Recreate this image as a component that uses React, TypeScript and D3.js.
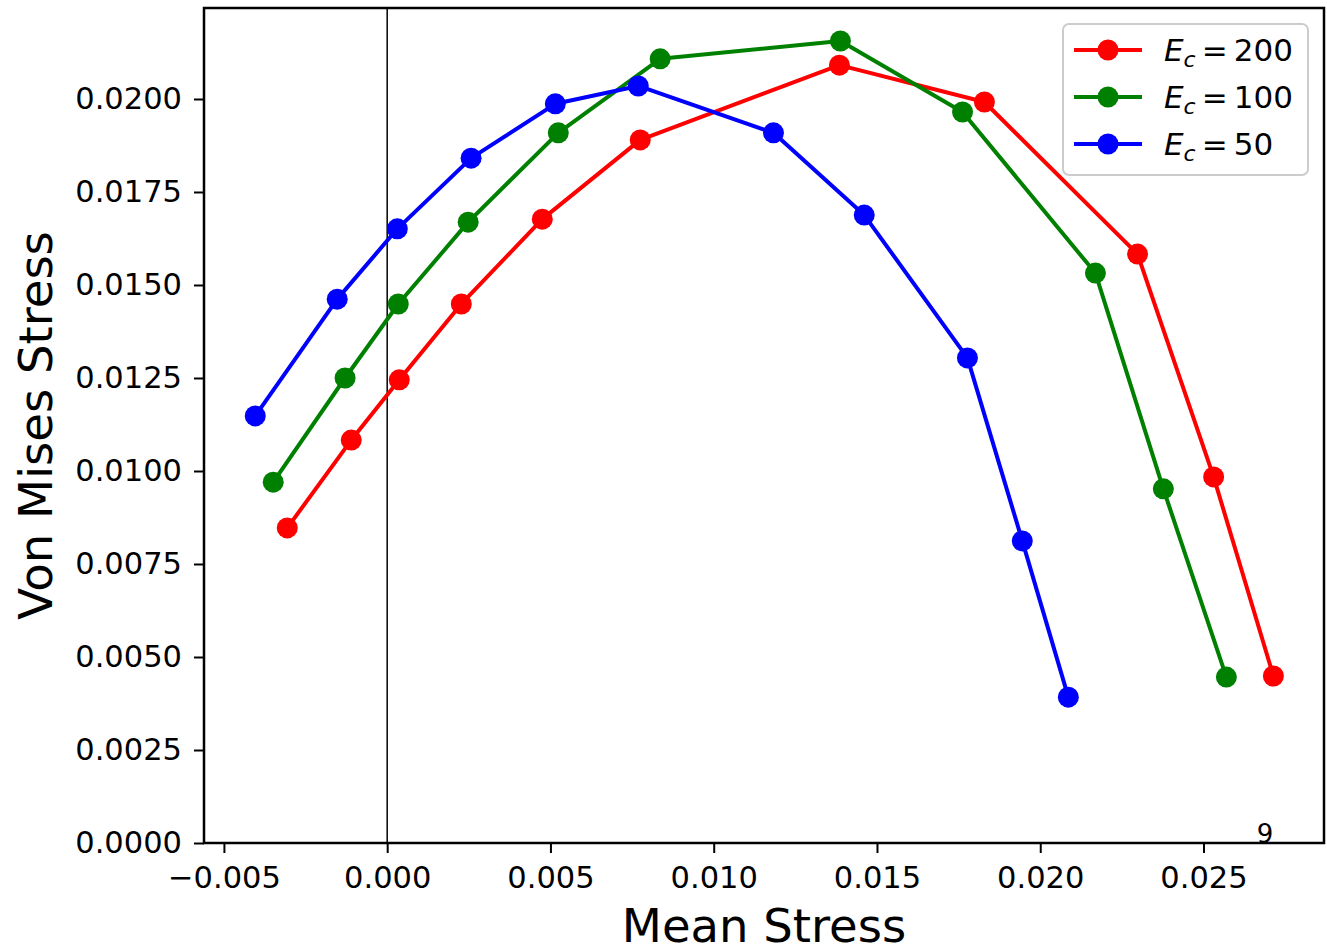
import React, { useEffect, useRef } from 'react';
import * as d3 from 'd3';

// series values (mean stress, von Mises stress)
const ec200X = [-0.00306, -0.0011, 0.00037, 0.00227, 0.00475, 0.00775, 0.01385, 0.01829, 0.02298, 0.02531, 0.02714];
const ec200Y = [0.00847, 0.01083, 0.01245, 0.01449, 0.01677, 0.0189, 0.02091, 0.01992, 0.01583, 0.00984, 0.00449];
const ec100X = [-0.00349, -0.00129, 0.00034, 0.00248, 0.00524, 0.00836, 0.01388, 0.01762, 0.02169, 0.02377, 0.0257];
const ec100Y = [0.0097, 0.0125, 0.01449, 0.01669, 0.01909, 0.02108, 0.02156, 0.01965, 0.01532, 0.00952, 0.00446];
const ec50X = [-0.00404, -0.00153, 0.00031, 0.00257, 0.00515, 0.00769, 0.01183, 0.01461, 0.01777, 0.01945, 0.02086];
const ec50Y = [0.01148, 0.01462, 0.01651, 0.01841, 0.01987, 0.02035, 0.01909, 0.01688, 0.01304, 0.00812, 0.00392];

const seriesNames = ['200', '100', '50'];
const seriesColors = ['#ff0000', '#008000', '#0000ff'];
const xTicks = [-0.005, 0, 0.005, 0.01, 0.015, 0.02, 0.025];
const yTicks = [0, 0.0025, 0.005, 0.0075, 0.01, 0.0125, 0.015, 0.0175, 0.02];

const W = 1327, H = 948;
const FONT = 'DejaVu Sans, sans-serif';

export default function App() {
  const ref = useRef<SVGSVGElement>(null);

  useEffect(() => {
    const svg = d3.select(ref.current);
    svg.selectAll('*').remove();

    const left = 204, right = 1324, top = 8, bottom = 843;
    const x = d3.scaleLinear().domain([-0.00561, 0.02869]).range([left, right]);
    const y = d3.scaleLinear().domain([0, 0.022446]).range([bottom, top]);

    const data = [
      d3.zip(ec200X, ec200Y),
      d3.zip(ec100X, ec100Y),
      d3.zip(ec50X, ec50Y),
    ];

    svg.append('rect').attr('width', W).attr('height', H).attr('fill', '#fff');

    // vertical line at x = 0
    svg.append('line')
      .attr('x1', x(0)).attr('x2', x(0))
      .attr('y1', top).attr('y2', bottom)
      .attr('stroke', '#000').attr('stroke-width', 1.5);

    const line = d3.line<number[]>().x(d => x(d[0])).y(d => y(d[1]));

    data.forEach((pts, i) => {
      svg.append('path')
        .attr('d', line(pts as number[][]))
        .attr('fill', 'none')
        .attr('stroke', seriesColors[i])
        .attr('stroke-width', 4)
        .attr('stroke-linejoin', 'round');
      svg.append('g').selectAll('circle')
        .data(pts)
        .enter()
        .append('circle')
        .attr('cx', d => x(d[0]))
        .attr('cy', d => y(d[1]))
        .attr('r', 10.5)
        .attr('fill', seriesColors[i]);
    });

    // axes
    const xAxis = svg.append('g')
      .attr('transform', `translate(0,${bottom})`)
      .call(d3.axisBottom(x).tickValues(xTicks).tickSize(10).tickPadding(13)
        .tickFormat(d => d3.format('.3f')(d as number).replace('-', '\u2212')));
    const yAxis = svg.append('g')
      .attr('transform', `translate(${left},0)`)
      .call(d3.axisLeft(y).tickValues(yTicks).tickSize(10).tickPadding(12)
        .tickFormat(d => d3.format('.4f')(d as number)));

    [xAxis, yAxis].forEach(a => {
      a.select('.domain').remove();
      a.selectAll('line').attr('stroke', '#000').attr('stroke-width', 2);
      a.selectAll('text').attr('font-family', FONT).attr('font-size', 30.5).attr('fill', '#000');
    });

    // spines
    svg.append('rect')
      .attr('x', left).attr('y', top)
      .attr('width', right - left).attr('height', bottom - top)
      .attr('fill', 'none').attr('stroke', '#000').attr('stroke-width', 2.5);

    // stray annotation
    svg.append('text')
      .attr('x', 1265).attr('y', 843)
      .attr('text-anchor', 'middle')
      .attr('font-family', FONT).attr('font-size', 26)
      .text('9');

    // axis labels
    svg.append('text')
      .attr('x', (left + right) / 2).attr('y', 942)
      .attr('text-anchor', 'middle')
      .attr('font-family', FONT).attr('font-size', 46.5)
      .text('Mean Stress');
    svg.append('text')
      .attr('transform', `translate(52,${(top + bottom) / 2}) rotate(-90)`)
      .attr('text-anchor', 'middle')
      .attr('font-family', FONT).attr('font-size', 46.5)
      .text('Von Mises Stress');

    // legend
    const lg = svg.append('g');
    lg.append('rect')
      .attr('x', 1063).attr('y', 24).attr('width', 245).attr('height', 151)
      .attr('rx', 6).attr('fill', '#fff').attr('fill-opacity', 0.8)
      .attr('stroke', '#cccccc').attr('stroke-width', 2);
    seriesNames.forEach((name, i) => {
      const cy = 50 + i * 47;
      lg.append('line')
        .attr('x1', 1074).attr('x2', 1142).attr('y1', cy).attr('y2', cy)
        .attr('stroke', seriesColors[i]).attr('stroke-width', 4);
      lg.append('circle')
        .attr('cx', 1108).attr('cy', cy).attr('r', 10.5).attr('fill', seriesColors[i]);
      const t = lg.append('text')
        .attr('x', 1164).attr('y', cy + 11)
        .attr('font-family', FONT).attr('font-size', 31);
      t.append('tspan').attr('font-style', 'italic').text('E');
      t.append('tspan').attr('font-style', 'italic').attr('font-size', 22).attr('dy', 6).text('c');
      t.append('tspan').attr('dy', -6).attr('dx', 6).text('=');
      t.append('tspan').attr('dx', 6).text(name);
    });
  }, []);

  return <svg ref={ref} width={W} height={H} style={{ display: 'block', position: 'absolute', left: 0, top: 0 }} />;
}
